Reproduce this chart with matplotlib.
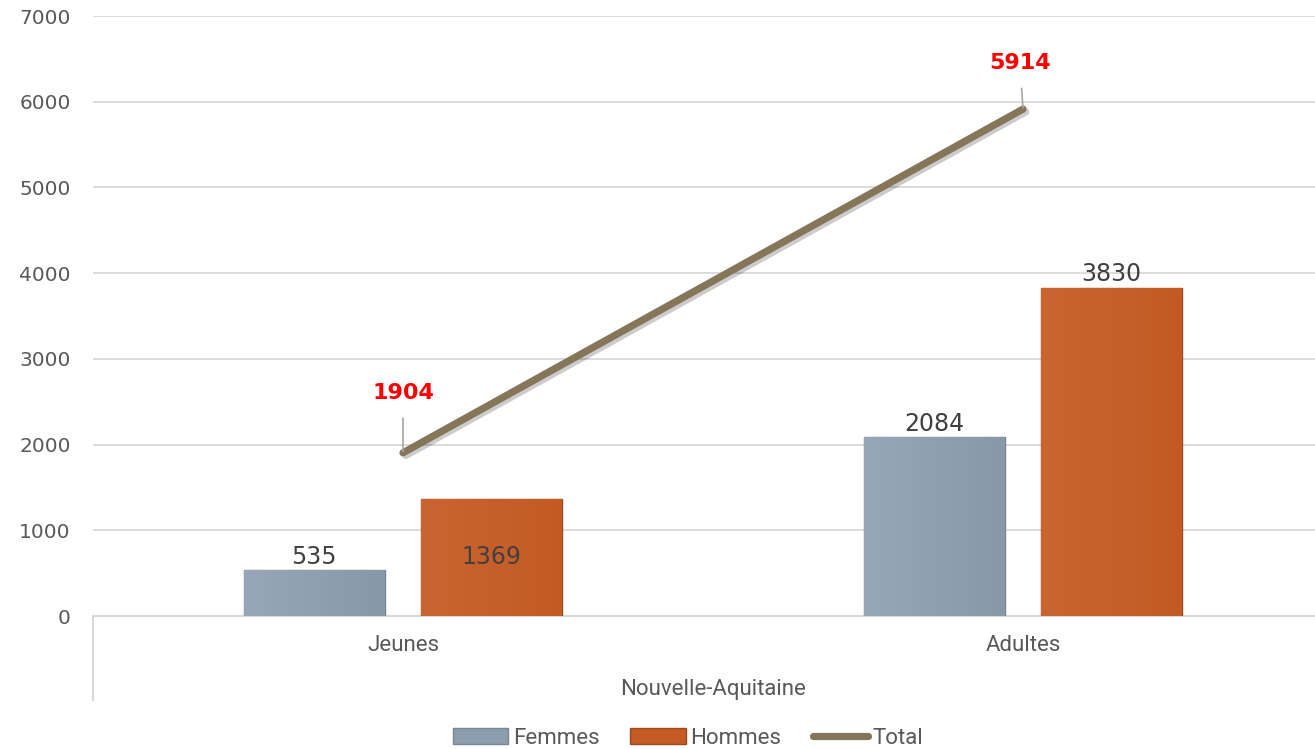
"""
Jeunes / Adultes par sexe - Nouvelle-Aquitaine
Bar + line combo chart recreated with matplotlib
"""
import numpy as np
import matplotlib
matplotlib.use("Agg")
import matplotlib.pyplot as plt
import matplotlib.patheffects as pe
from matplotlib.colors import LinearSegmentedColormap
from matplotlib.lines import Line2D
from matplotlib.patches import Patch

# data
categories = ["Jeunes", "Adultes"]
group_label = "Nouvelle-Aquitaine"
femmes = [535, 2084]
hommes = [1369, 3830]
total = [1904, 5914]
y_ticks = [0, 1000, 2000, 3000, 4000, 5000, 6000, 7000]

# colours
c_femmes = "#8D9DB0"
c_hommes = "#C55B24"
c_total = "#857659"
c_grid = "#D9D9D9"
c_text = "#595959"
c_label = "#404040"

fig = plt.figure(figsize=(13.15, 7.49), dpi=100)
ax = fig.add_axes([93 / 1315, 133 / 749, 1240 / 1315, 600 / 749])

x = np.arange(len(categories))
bw = 0.227
off = 0.143

b1 = ax.bar(x - off, femmes, bw, color=c_femmes, edgecolor="#7A8591", linewidth=1, zorder=3)
b2 = ax.bar(x + off, hommes, bw, color=c_hommes, edgecolor="#9A4A22", linewidth=1, zorder=3)


def shade(bars, light, dark):
    # soft left-to-right gradient like the office chart fill
    cmap = LinearSegmentedColormap.from_list("g", [light, dark])
    grad = np.linspace(0, 1, 64).reshape(1, -1)
    for b in bars:
        x0, y0 = b.get_x(), b.get_y()
        im = ax.imshow(grad, cmap=cmap, aspect="auto", zorder=3.1,
                       extent=(x0, x0 + b.get_width(), y0, y0 + b.get_height()))
        im.set_clip_path(b)


shade(b1, "#97A7B9", "#8898AB")
shade(b2, "#C96531", "#C35A23")

ax.plot(x, total, color=c_total, linewidth=5.2, solid_capstyle="round", zorder=4,
        path_effects=[pe.SimpleLineShadow(offset=(2, -2), alpha=0.2), pe.Normal()])

# bar labels (the small Hommes bar gets its label inside)
for i, v in enumerate(femmes):
    ax.annotate(str(v), (x[i] - off, v), xytext=(0, 1), textcoords="offset points",
                ha="center", va="bottom", fontsize=17, color=c_label, zorder=5)
for i, v in enumerate(hommes):
    if i == 0:
        ax.text(x[i] + off, v / 2, str(v), ha="center", va="center",
                fontsize=17, color=c_label, zorder=5)
    else:
        ax.annotate(str(v), (x[i] + off, v), xytext=(0, 1), textcoords="offset points",
                    ha="center", va="bottom", fontsize=17, color=c_label, zorder=5)

# total labels with leader lines
label_offsets = [(0, 60), (-3, 46)]
for i, v in enumerate(total):
    ax.annotate(str(v), (x[i], v), xytext=label_offsets[i], textcoords="offset pixels",
                ha="center", va="center", fontsize=16, fontweight="bold", color="#FF0000",
                zorder=6,
                arrowprops=dict(arrowstyle="-", color="#A6A6A6", lw=1.2,
                                shrinkA=9, shrinkB=1))

ax.set_xlim(-0.5, 1.5)
ax.set_ylim(0, 7000)
ax.set_yticks(y_ticks)
ax.set_yticklabels([str(t) for t in y_ticks])
ax.tick_params(axis="y", length=0, pad=16, labelsize=14.5, labelcolor=c_text)
ax.set_xticks(x)
ax.set_xticklabels(categories, fontfamily="Roboto", fontsize=16)
ax.tick_params(axis="x", length=0, pad=14, labelcolor=c_text)

ax.grid(axis="y", color=c_grid, linewidth=1.3, zorder=0)
ax.set_axisbelow(True)
for s in ["top", "right", "left"]:
    ax.spines[s].set_visible(False)
ax.spines["bottom"].set_color(c_grid)
ax.spines["bottom"].set_linewidth(1.5)

# multi-level category axis: divider line and group label
ax.add_line(Line2D([0, 0], [0, -0.14], transform=ax.transAxes, color=c_grid,
                   linewidth=1.5, clip_on=False))
ax.text(0.5, -0.122, group_label, transform=ax.transAxes, ha="center", va="center",
        fontfamily="Roboto", fontsize=16, color=c_text)

handles = [
    Patch(facecolor=c_femmes, edgecolor="#7A8591"),
    Patch(facecolor=c_hommes, edgecolor="#9A4A22"),
    Line2D([0], [0], color=c_total, linewidth=5.2, solid_capstyle="round"),
]
leg = fig.legend(handles, ["Femmes", "Hommes", "Total"], loc="center",
                 bbox_to_anchor=(688 / 1315, 1 - 738 / 749), ncol=3, frameon=False,
                 prop={"family": "Roboto", "size": 16}, handlelength=2.5, handleheight=0.7,
                 handletextpad=0.2, columnspacing=1.4)
for t in leg.get_texts():
    t.set_color(c_text)

fig.savefig("out.png", dpi=100)
